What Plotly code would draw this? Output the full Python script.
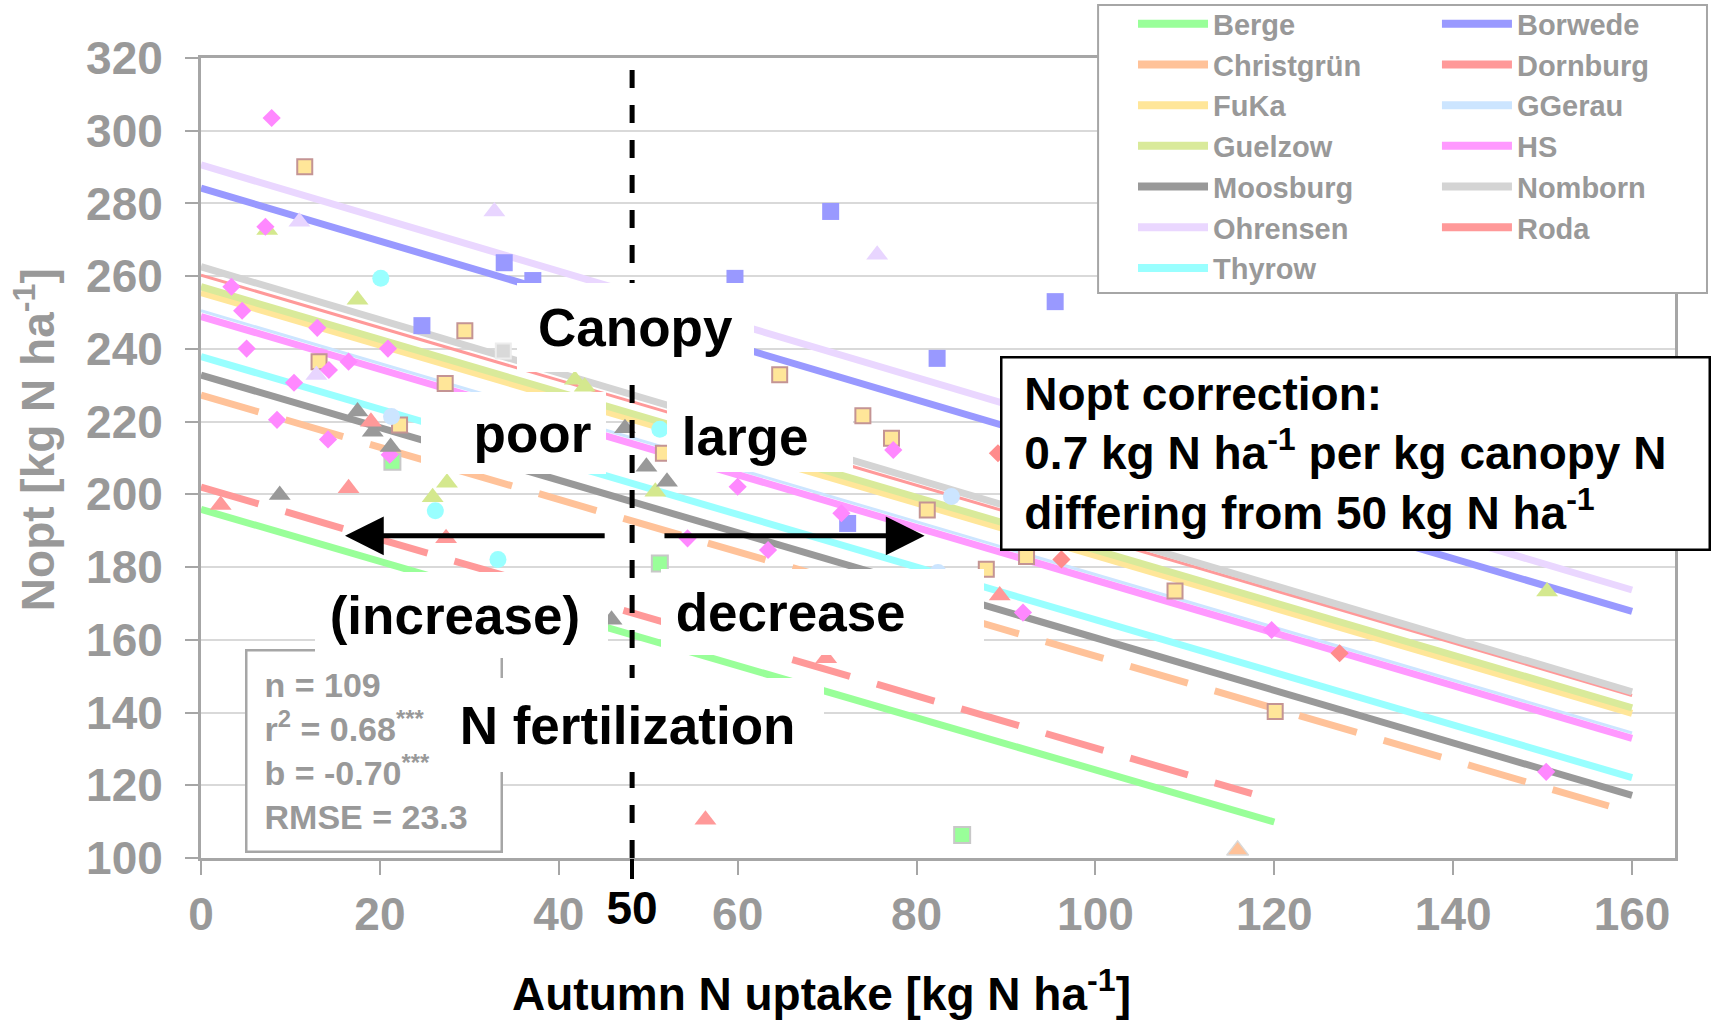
import plotly.graph_objects as go

# ---------------- data ----------------
SITES = ["Berge", "Borwede", "Christgrün", "Dornburg", "FuKa", "GGerau", "Guelzow",
         "HS", "Moosburg", "Nomborn", "Ohrensen", "Roda", "Thyrow"]

# site regression lines (start / end points)
LINE_X_START = [0, 0, 0, 0, 0, 0, 0, 0, 0, 0, 0, 0, 0]
LINE_X_END = [120, 160, 157.4, 160, 160, 160, 160, 160, 160, 160, 160, 117.5, 160]
LINE_Y_START = [195.9, 284.2, 227.3, 260.3, 255.5, 250.5, 257.1, 248.9, 232.8, 262.6, 290.6, 202.0, 237.9]
LINE_Y_END = [109.9, 167.8, 114.3, 144.7, 139.8, 134.4, 141.3, 132.9, 117.2, 145.7, 173.7, 117.7, 122.1]

# observations per site
BERGE_X = [21.4, 51.3, 85.1]
BERGE_Y = [209.0, 181.0, 106.3]
BORWEDE_X = [33.9, 37.1, 24.7, 59.7, 70.4, 95.5, 82.3, 72.3]
BORWEDE_Y = [263.7, 258.8, 246.4, 259.4, 277.8, 253.0, 237.4, 192.0]
CHRISTGRUEN_X = [115.9]
CHRISTGRUEN_Y = [102.1]
DORNBURG_X = [89.1, 96.2, 127.3]
DORNBURG_Y = [211.3, 182.1, 156.3]
FUKA_X = [11.6, 29.5, 13.2, 27.3, 22.2, 51.7, 64.7, 74.0, 77.2, 81.2, 87.8, 92.3, 108.9, 120.1]
FUKA_Y = [290.1, 245.0, 236.5, 230.5, 219.1, 211.3, 232.9, 221.6, 215.4, 195.7, 179.4, 182.9, 173.4, 140.3]
GGERAU_X = [21.3, 83.9, 82.4]
GGERAU_Y = [221.4, 199.4, 178.5]
GUELZOW_X = [7.4, 17.5, 41.8, 42.9, 25.9, 27.5, 50.8, 150.5]
GUELZOW_Y = [272.7, 253.5, 231.5, 229.6, 199.2, 203.2, 200.7, 173.3]
HS_X = [7.9, 7.2, 3.4, 4.6, 13.0, 5.1, 20.9, 16.5, 14.3, 10.4, 8.5, 14.2, 21.1, 60.0,
        71.6, 77.4, 54.4, 63.4, 91.9, 119.7, 150.4]
HS_Y = [303.5, 273.6, 257.1, 250.5, 245.8, 240.1, 240.1, 236.5, 234.2, 230.7, 220.5, 215.1,
        210.9, 202.1, 194.8, 212.2, 187.9, 184.7, 167.5, 162.7, 123.7]
MOOSBURG_X = [17.5, 19.2, 21.2, 8.8, 47.4, 49.8, 52.1, 45.9]
MOOSBURG_Y = [222.8, 217.2, 213.0, 199.8, 218.2, 207.6, 203.5, 165.5]
NOMBORN_X = [33.8]
NOMBORN_Y = [239.4]
OHRENSEN_X = [11.0, 32.8, 12.9, 75.6]
OHRENSEN_Y = [275.0, 277.8, 232.8, 265.9]
RODA_X = [2.2, 16.5, 19.0, 27.4, 56.4, 69.9, 89.3]
RODA_Y = [197.1, 201.7, 220.0, 187.9, 110.5, 154.9, 172.2]
THYROW_X = [20.1, 26.2, 33.2, 51.3]
THYROW_Y = [259.4, 195.5, 182.1, 217.9]

REF_UPTAKE = 48.2          # where the dashed "50" reference line sits in the picture
REF_LABEL = "50"
X_TICKS = [0, 20, 40, 60, 80, 100, 120, 140, 160]
Y_TICKS = [100, 120, 140, 160, 180, 200, 220, 240, 260, 280, 300, 320]

POINTS = {
    "Berge": (BERGE_X, BERGE_Y), "Borwede": (BORWEDE_X, BORWEDE_Y),
    "Christgrün": (CHRISTGRUEN_X, CHRISTGRUEN_Y), "Dornburg": (DORNBURG_X, DORNBURG_Y),
    "FuKa": (FUKA_X, FUKA_Y), "GGerau": (GGERAU_X, GGERAU_Y), "Guelzow": (GUELZOW_X, GUELZOW_Y),
    "HS": (HS_X, HS_Y), "Moosburg": (MOOSBURG_X, MOOSBURG_Y), "Nomborn": (NOMBORN_X, NOMBORN_Y),
    "Ohrensen": (OHRENSEN_X, OHRENSEN_Y), "Roda": (RODA_X, RODA_Y), "Thyrow": (THYROW_X, THYROW_Y),
}

# ---------------- style ----------------
LINE_COLOR = {
    "Berge": "#99FF99", "Borwede": "#9999FF", "Christgrün": "#FFC299", "Dornburg": "#FF9999",
    "FuKa": "#FFE699", "GGerau": "#CCE5FF", "Guelzow": "#D9EA9A", "HS": "#FF99FF",
    "Moosburg": "#999999", "Nomborn": "#D4D4D4", "Ohrensen": "#EAD7FF", "Roda": "#FF9999",
    "Thyrow": "#99FFFF",
}
MARKER = {
    "Berge": dict(symbol="square", size=16, color="#99FF99", line=dict(color="#C8C8C8", width=2)),
    "Borwede": dict(symbol="square", size=17, color="#9999FF"),
    "Christgrün": dict(symbol="triangle-up", size=19, color="#FFC299", line=dict(color="#D9D9D9", width=1.5)),
    "Dornburg": dict(symbol="diamond", size=14, color="#FF8C8C"),
    "FuKa": dict(symbol="square", size=15, color="#FFE699", line=dict(color="#C49494", width=2)),
    "GGerau": dict(symbol="circle", size=17, color="#CCE5FF"),
    "Guelzow": dict(symbol="triangle-up", size=19, color="#D4E88E"),
    "HS": dict(symbol="diamond", size=14, color="#FF88FF"),
    "Moosburg": dict(symbol="triangle-up", size=19, color="#999999"),
    "Nomborn": dict(symbol="square", size=15, color="#D9D9D9", line=dict(color="#EDEDED", width=2)),
    "Ohrensen": dict(symbol="triangle-up", size=19, color="#E8D5FF"),
    "Roda": dict(symbol="triangle-up", size=19, color="#FF9999"),
    "Thyrow": dict(symbol="circle", size=17, color="#99FFFF"),
}
DASHED = {"Christgrün", "Roda"}
THIN = {"Dornburg", "GGerau"}
LEFT_COLUMN = ["Berge", "Christgrün", "FuKa", "Guelzow", "Moosburg", "Ohrensen", "Thyrow"]

FONT = "Liberation Sans, Arial, sans-serif"
GRAY_TXT = "#999999"
AXIS_GRAY = "#A6A6A6"

fig = go.Figure()

# regression lines
for i, s in enumerate(SITES):
    fig.add_trace(go.Scatter(
        x=[LINE_X_START[i], LINE_X_END[i]], y=[LINE_Y_START[i], LINE_Y_END[i]],
        mode="lines", showlegend=False, hoverinfo="skip",
        line=dict(color=LINE_COLOR[s], width=3 if s in THIN else 7,
                  dash="60px,28px" if s in DASHED else "solid"),
    ))

# observations
for s in SITES:
    xs, ys = POINTS[s]
    fig.add_trace(go.Scatter(x=xs, y=ys, mode="markers", showlegend=False,
                             marker=MARKER[s], name=s))

# legend-only entries (thick solid line samples)
for s in SITES:
    fig.add_trace(go.Scatter(
        x=[None], y=[None], mode="lines", name=s,
        line=dict(color=LINE_COLOR[s], width=8),
        legend="legend" if s in LEFT_COLUMN else "legend2",
    ))

# dashed reference line at ~50 kg N (on overlay axis carrying the "50" tick)
fig.add_trace(go.Scatter(
    x=[REF_UPTAKE, REF_UPTAKE], y=[Y_TICKS[0], 319.5], xaxis="x2", mode="lines",
    showlegend=False, hoverinfo="skip",
    line=dict(color="black", width=5, dash="18px,17px"),
))

tickfont = dict(family=FONT, size=46, color=GRAY_TXT, weight="bold")

fig.update_layout(
    width=1713, height=1020,
    margin=dict(l=201, r=38, t=58, b=162, autoexpand=False),
    plot_bgcolor="white", paper_bgcolor="white",
    font=dict(family=FONT),
    xaxis=dict(range=[0, 164.8], tickvals=X_TICKS, ticks="outside", ticklen=14, tickwidth=2,
               tickcolor=AXIS_GRAY, showline=True, linecolor=AXIS_GRAY, linewidth=3, mirror=True,
               showgrid=False, zeroline=False, tickfont=tickfont, ticklabelstandoff=0),
    xaxis2=dict(overlaying="x", matches="x", anchor="y", side="bottom", range=[0, 164.8],
                tickvals=[REF_UPTAKE], ticktext=[REF_LABEL], ticks="outside", ticklen=20,
                tickwidth=4, tickcolor="black", showline=False, showgrid=False, zeroline=False,
                tickfont=dict(family=FONT, size=46, color="black", weight="bold"),
                ticklabelstandoff=-10),
    yaxis=dict(range=[100, 320], tickvals=Y_TICKS, ticks="outside", ticklen=13, tickwidth=2,
               tickcolor=AXIS_GRAY, showline=True, linecolor=AXIS_GRAY, linewidth=3, mirror=True,
               showgrid=True, gridcolor="#D9D9D9", gridwidth=2, zeroline=False,
               tickfont=tickfont, ticklabelstandoff=13),
    legend=dict(x=0.6323, y=1.0745, xanchor="left", yanchor="top", bgcolor="rgba(0,0,0,0)",
                borderwidth=0, itemwidth=70, font=dict(family=FONT, size=29, color=GRAY_TXT, weight="bold"),
                tracegroupgap=0),
    legend2=dict(x=0.8385, y=1.0745, xanchor="left", yanchor="top", bgcolor="rgba(0,0,0,0)",
                 borderwidth=0, itemwidth=70, font=dict(family=FONT, size=29, color=GRAY_TXT, weight="bold"),
                 tracegroupgap=0),
    showlegend=True,
)

# legend frame
fig.add_shape(type="rect", xref="paper", yref="paper", x0=0.6086, x1=1.0217, y0=0.70625, y1=1.06625,
              fillcolor="white", line=dict(color=AXIS_GRAY, width=2), layer="above")

BLACK_BIG = dict(family=FONT, size=53, color="black", weight="bold")


def box(text, cx, cy, w, h, align="left"):
    fig.add_annotation(text=text, xref="paper", yref="paper", x=cx, y=cy, xanchor="center",
                       yanchor="middle", showarrow=False, bgcolor="white", borderwidth=0,
                       borderpad=0, width=w, height=h, align=align, valign="middle",
                       font=BLACK_BIG)


# statistics box (drawn first, overlapped by the labels)
fig.add_annotation(text="n = 109<br>r<sup>2</sup> = 0.68<sup>***</sup><br>b = -0.70<sup>***</sup><br>RMSE = 23.3",
                   xref="paper", yref="paper", x=0.1174, y=0.13375, xanchor="center", yanchor="middle",
                   showarrow=False, bgcolor="white", bordercolor=AXIS_GRAY, borderwidth=2.5, borderpad=17,
                   width=219, height=165, align="left", valign="middle",
                   font=dict(family=FONT, size=34, color=GRAY_TXT, weight="bold"))

box("Canopy", 0.2948, 0.6631, 237, 89, align="center")
box("poor&nbsp;", 0.2120, 0.53125, 185, 82, align="right")
box("&nbsp;large", 0.3792, 0.5275, 186, 72, align="left")
box("&nbsp;(increase)", 0.1767, 0.30375, 293, 86, align="left")
box("&nbsp;decrease", 0.4216, 0.3075, 323, 86, align="left")
box("&nbsp;N fertilization", 0.2941, 0.16625, 379, 94, align="left")

# arrows
for tip, tail in [(16.1, 45.3), (80.9, 51.65)]:
    fig.add_annotation(x=tip, y=188.6, ax=tail, ay=188.6, xref="x", yref="y", axref="x", ayref="y",
                       text="", showarrow=True, arrowhead=2, arrowsize=1.55, arrowwidth=5,
                       arrowcolor="black")

# Nopt correction box
fig.add_annotation(text="&nbsp;Nopt correction:<br>&nbsp;0.7 kg N ha<sup>-1</sup> per kg canopy N<br>&nbsp;differing from 50 kg N ha<sup>-1</sup>",
                   xref="paper", yref="paper", x=0.7832, y=0.50625, xanchor="center", yanchor="middle",
                   showarrow=False, bgcolor="white", bordercolor="black", borderwidth=2.5, borderpad=9,
                   width=688, align="left", valign="middle",
                   font=dict(family=FONT, size=46, color="black", weight="bold"))

# axis titles
fig.add_annotation(text="Nopt [kg N ha<sup>-1</sup>]", xref="paper", yref="paper", x=-0.1125, y=0.5225,
                   xanchor="center", yanchor="middle", showarrow=False, textangle=-90,
                   font=dict(family=FONT, size=46, color=GRAY_TXT, weight="bold"))
fig.add_annotation(text="Autumn N uptake [kg N ha<sup>-1</sup>]", xref="paper", yref="paper",
                   x=0.4213, y=-0.166, xanchor="center", yanchor="middle", showarrow=False,
                   font=dict(family=FONT, size=46, color="black", weight="bold"))

fig.write_html("out.html")
